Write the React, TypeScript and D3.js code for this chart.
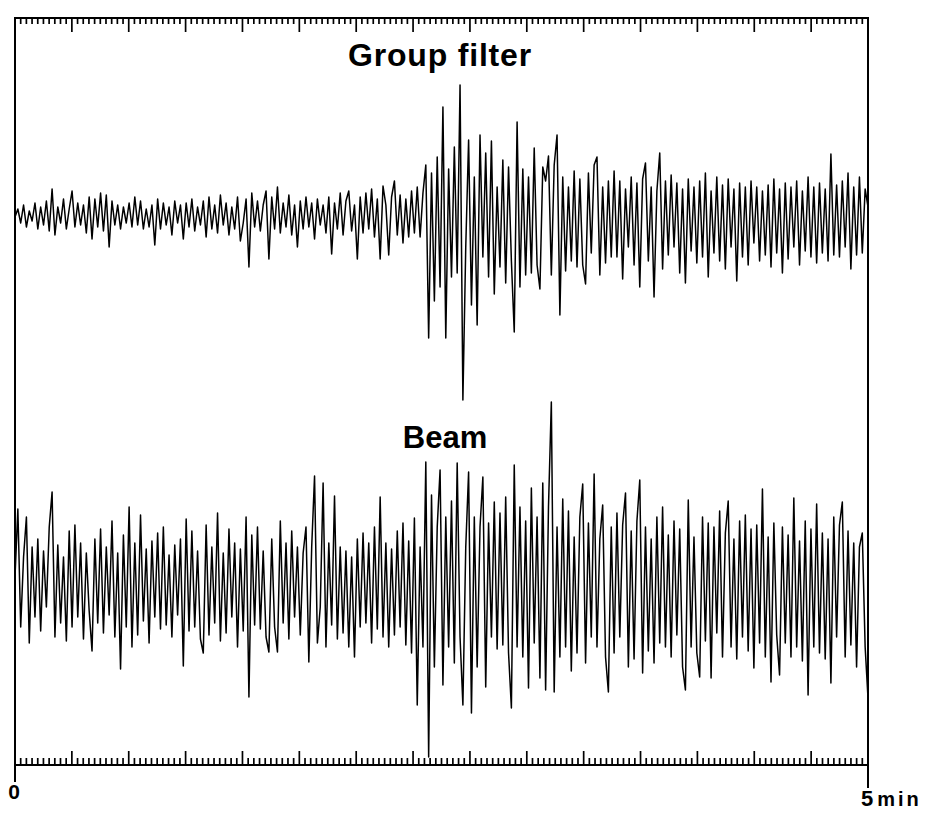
// Seismogram comparison - group filter vs beam trace
import * as d3 from 'd3';

const W = 929;
const H = 817;

// time axis, seconds (0 .. 5 min)
const timeDomain = [0, 300];
const minorStep = 2;
const majorStep = 20;
const axisLabels = ['0', '5'];
const axisUnit = 'min';

const titles = ['Group filter', 'Beam'];

// amplitude samples, evenly spaced over the record (positive = up)
const groupFilter = [
  0, 8, -6, 12, -10, 6, -4, 14, -12, 10,
  -8, 16, -14, 28, -18, 10, -6, 18, -12, 8,
  26, -10, 14, -8, 12, -16, 20, -22, 18, -10,
  24, -14, 22, -30, 16, -8, 12, -12, 10, -6,
  14, -10, 20, -8, 16, -12, 8, -10, 12, -28,
  18, -12, 14, -8, 10, -18, 16, -6, 12, -22,
  14, -10, 18, -14, 10, -8, 16, -20, 20, -12,
  12, -16, 22, -8, 14, -18, 10, -12, 20, -24,
  -6, 18, -50, 24, -10, 16, -14, 12, 26, -42,
  20, -12, 30, -16, 14, -10, 22, -18, 12, -30,
  16, -12, 20, -10, 14, -22, 18, -8, 12, -16,
  20, -37, 14, -12, 24, -18, 16, 26, -14, 12,
  -42, 20, -16, 24, -12, 28, -20, 18, -42, 31,
  12, -38, 20, 36, -18, 22, -26, 18, -20, 26,
  -16, 30, -20, 24, 52, -121, 44, -84, 60, -70,
  110, -121, 48, -60, 70, -56, 132, -183, -30, 77,
  -88, 40, -108, 82, -40, 64, -60, 76, -77, 30,
  -50, 57, -66, 50, -44, -115, 95, -70, 48, -58,
  40, -56, 69, -48, -72, 50, 36, 61, -58, 52,
  82, -98, 40, -54, 30, -44, 46, -50, 38, -48,
  -67, 44, -36, 52, 60, -58, 30, -46, 36, -40,
  46, -40, 36, -62, 28, -30, 40, -48, 34, -70,
  38, 54, -44, 30, -80, 26, 64, -52, 36, -38,
  42, -30, 34, -56, 28, -66, 38, -34, 30, -46,
  36, -40, 44, -60, 26, -36, 40, -44, 32, -52,
  38, -30, 28, -64, 34, -40, 30, -48, 36, -26,
  30, -44, 26, -38, 32, -50, 38, -36, 28, -56,
  34, -42, 30, -30, 36, -48, 26, -34, 40, -40,
  30, -46, 34, -36, 28, -44, 63, -38, 32, -40,
  36, -30, 44, -52, 30, -38, 40, -36, 28, 10,
];

const beam = [
  10, 78, -40, 30, 70, -56, 40, -30, 48, -44,
  36, -20, 60, 95, -50, 42, -36, 30, -54, 56,
  -40, 62, -30, 44, -52, 34, -24, -64, 48, -36,
  58, -46, 40, -28, 66, -50, 34, -82, 52, -40,
  80, -60, 44, -48, 72, -34, 38, -56, 46, -30,
  54, -42, 60, -38, 32, -50, 42, -28, 48, -79,
  68, -44, 56, -40, 36, -52, -66, 62, -48, 40,
  -36, 74, -54, 34, -46, 58, -30, 44, -60, 38,
  -44, 70, -110, 52, -38, 60, -42, 36, -50, -65,
  48, -40, -65, 66, -36, 44, -52, 56, -30, 40,
  -48, 34, 60, -75, 40, 111, -56, -20, 104, -60,
  44, -38, 91, -52, 40, -46, 36, -60, 30, -70,
  48, -40, 54, -36, 44, -56, 60, -42, 90, -50,
  44, -60, 38, -48, 56, -40, 64, -58, 46, -66,
  69, -118, 40, -60, 125, -170, 92, -80, 60, 117,
  -98, 70, -60, 86, -76, 124, -50, -118, 40, 115,
  -126, 70, -80, 60, 110, -100, 64, -50, 85, -62,
  74, -58, 90, -66, -121, 122, -60, 80, -70, 66,
  -101, 99, -56, 70, -91, 104, -103, 80, 185, -105,
  60, -70, 88, -60, 76, -84, 50, -66, 70, 103,
  -76, 64, -50, 113, -60, 48, 82, -70, -105, 60,
  -66, 74, -50, 62, 94, -80, 56, -72, 66, 107,
  -86, 60, -64, 48, -76, 70, -56, 80, -60, 52,
  -70, 66, -48, 58, -80, -103, 87, -60, 50, -66,
  -90, 70, -54, 64, -91, 60, -46, 76, -70, 54,
  86, -60, 48, -72, 66, -50, 72, -64, 58, -81,
  62, -56, 98, -70, 50, -95, 64, -48, -88, 60,
  -56, 52, -70, 89, -60, 46, -74, 66, -108, 58,
  -60, 83, -66, 54, -72, 48, -96, 70, -50, 62,
  85, -70, 56, -58, 44, -80, 40, 54, -60, -111,
];

const FONT = '"Liberation Sans", Arial, Helvetica, sans-serif';

export default function App() {
  const left = 15;
  const right = 868;
  const top = 18;
  const bottom = 765;

  const x = d3.scaleLinear().domain(timeDomain).range([left, right]);

  // each trace gets its own baseline, 1 unit = 1 px
  const yGroup = d3.scaleLinear().domain([-200, 200]).range([217 + 200, 217 - 200]);
  const yBeam = d3.scaleLinear().domain([-200, 200]).range([587 + 200, 587 - 200]);

  const traceLine = (values: number[], y: d3.ScaleLinear<number, number>) => {
    const dt = (timeDomain[1] - timeDomain[0]) / (values.length - 1);
    return d3.line<number>()
      .x((_, i) => x(timeDomain[0] + i * dt))
      .y(d => y(d))(values) || '';
  };

  const ticks = d3.range(timeDomain[0], timeDomain[1] + 0.001, minorStep);
  const isMajor = (t: number) => Math.abs(t % majorStep) < 0.001;

  return (
    <div style={{ position: 'fixed', left: 0, top: 0, background: '#fff' }}>
      <svg width={W} height={H} viewBox={`0 0 ${W} ${H}`} style={{ display: 'block' }}>
        <rect width={W} height={H} fill="#fff" />

        {/* frame */}
        <line x1={left - 1} x2={right + 1} y1={top} y2={top} stroke="#000" strokeWidth={2.2} />
        <line x1={left} x2={right} y1={bottom} y2={bottom} stroke="#000" strokeWidth={2.2} />
        <line x1={left} x2={left} y1={top - 1} y2={782} stroke="#000" strokeWidth={2} />
        <line x1={right} x2={right} y1={top - 1} y2={788} stroke="#000" strokeWidth={2} />

        {/* time ticks, top hang down, bottom stand up */}
        {ticks.map(t => (
          <g key={t}>
            <line x1={x(t)} x2={x(t)} y1={top} y2={top + (isMajor(t) ? 14 : 6)}
              stroke="#000" strokeWidth={1.7} />
            <line x1={x(t)} x2={x(t)} y1={bottom} y2={bottom - (isMajor(t) ? 14 : 7)}
              stroke="#000" strokeWidth={1.7} />
          </g>
        ))}

        {/* traces */}
        <path d={traceLine(groupFilter, yGroup)} fill="none" stroke="#000" strokeWidth={1.5}
          strokeLinejoin="round" />
        <path d={traceLine(beam, yBeam)} fill="none" stroke="#000" strokeWidth={1.5}
          strokeLinejoin="round" />

        {/* titles */}
        <text x={440} y={66} textAnchor="middle" fontFamily={FONT} fontWeight="bold" fontSize={32}
          letterSpacing={0.8}>
          {titles[0]}
        </text>
        <text x={445} y={448} textAnchor="middle" fontFamily={FONT} fontWeight="bold" fontSize={31}>
          {titles[1]}
        </text>

        {/* axis labels */}
        <text x={x(timeDomain[0]) - 1} y={799} textAnchor="middle" fontFamily={FONT} fontWeight="bold" fontSize={21}>
          {axisLabels[0]}
        </text>
        <text x={861} y={806} fontFamily={FONT} fontWeight="bold" fontSize={22}>
          {axisLabels[1]}
          <tspan dx={4} fontSize={20} letterSpacing={3}>{axisUnit}</tspan>
        </text>
      </svg>
    </div>
  );
}
